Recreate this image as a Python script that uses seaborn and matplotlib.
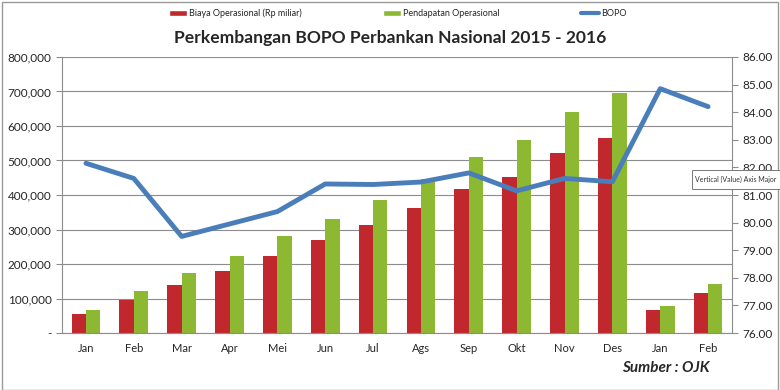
import matplotlib.pyplot as plt
import matplotlib.ticker as mticker
from matplotlib.patches import Patch, Rectangle
from matplotlib.lines import Line2D
import seaborn as sns
import pandas as pd

# Data
months = ["Jan", "Feb", "Mar", "Apr", "Mei", "Jun", "Jul", "Ags",
          "Sep", "Okt", "Nov", "Des", "Jan", "Feb"]
periods = [f"{m} {y}" for m, y in zip(months, [2015] * 12 + [2016] * 2)]
biaya = [55000, 97000, 139000, 180000, 223000, 270000, 312000, 362000,
         418000, 453000, 521000, 566000, 67000, 117000]
pendapatan = [68000, 121000, 175000, 224000, 281000, 331000, 385000, 445000,
              509000, 559000, 640000, 695000, 79000, 141000]
bopo = [82.15, 81.6, 79.5, 79.95, 80.4, 81.4, 81.38, 81.47,
        81.8, 81.15, 81.6, 81.48, 84.85, 84.2]

RED = "#C0282D"
GREEN = "#8DB832"
BLUE = "#4A7EBB"

bars = pd.DataFrame({
    "period": periods * 2,
    "value": biaya + pendapatan,
    "series": ["Biaya Operasional (Rp miliar)"] * len(periods)
    + ["Pendapatan Operasional"] * len(periods),
})
line = pd.DataFrame({"pos": range(len(periods)), "bopo": bopo})

sns.set_style("white")
plt.rcParams["font.family"] = ["Lato", "DejaVu Sans"]

fig = plt.figure(figsize=(7.8, 3.9), dpi=100)
ax = fig.add_axes([0.0795, 0.146, 0.859, 0.708])

sns.barplot(data=bars, x="period", y="value", hue="series", order=periods,
            palette=[RED, GREEN], width=0.6, gap=0, saturation=1,
            edgecolor="none", legend=False, ax=ax)

ax.set_ylim(0, 800000)
ax.set_xlim(-0.5, len(periods) - 0.5)
ax.yaxis.set_major_locator(mticker.MultipleLocator(100000))
ax.yaxis.set_major_formatter(mticker.FuncFormatter(
    lambda v, p: "-" if v == 0 else f"{v:,.0f}"))
ax.grid(axis="y", color="#8C8C8C", linewidth=0.8)
ax.set_axisbelow(True)
ax.set_xticks(range(len(periods)))
ax.set_xticklabels(months)
ax.set_xticks([i + 0.5 for i in range(-1, len(periods))], minor=True)
ax.tick_params(axis="x", which="major", length=0, pad=7, labelsize=8)
ax.tick_params(axis="x", which="minor", length=4, color="#8C8C8C")
ax.tick_params(axis="y", length=4, color="#8C8C8C", labelsize=8.5, left=True)
ax.set_xlabel("")
ax.set_ylabel("")
for s in ["left", "bottom"]:
    ax.spines[s].set_color("#8C8C8C")
for s in ["top", "right"]:
    ax.spines[s].set_visible(False)

ax2 = ax.twinx()
sns.lineplot(data=line, x="pos", y="bopo", color=BLUE, linewidth=3.5,
             ax=ax2)
ax2.set_ylim(76, 86)
ax2.yaxis.set_major_locator(mticker.MultipleLocator(1))
ax2.yaxis.set_major_formatter(mticker.FormatStrFormatter("%.2f"))
ax2.tick_params(axis="y", length=4, color="#8C8C8C", labelsize=8.5, right=True)
ax2.set_ylabel("")
ax2.spines["right"].set_color("#8C8C8C")
for s in ["top", "left", "bottom"]:
    ax2.spines[s].set_visible(False)

# Title, legend, source
fig.text(0.5, 0.902, "Perkembangan BOPO Perbankan Nasional 2015 - 2016",
         ha="center", va="center", fontsize=12.6, fontweight="bold")
handles = [Patch(facecolor=RED, label="Biaya Operasional (Rp miliar)"),
           Patch(facecolor=GREEN, label="Pendapatan Operasional"),
           Line2D([], [], color=BLUE, linewidth=3, label="BOPO")]
fig.legend(handles=handles, loc="center", bbox_to_anchor=(0.51, 0.966),
           ncol=3, frameon=False, fontsize=6.5, columnspacing=9,
           handlelength=2, handletextpad=0.2, handleheight=0.6)
fig.text(0.91, 0.057, "Sumber : OJK", ha="right", va="center",
         fontsize=11, fontweight="bold", style="italic")

# Tooltip left over from the screenshot (runs off the right edge)
fig.patches.append(Rectangle((0.887, 0.515), 0.12, 0.05, facecolor="white",
                             edgecolor="#777777", linewidth=0.7,
                             transform=fig.transFigure, figure=fig,
                             zorder=5))
fig.text(0.891, 0.54, "Vertical (Value) Axis Major", ha="left",
         va="center", fontsize=5.0, color="#333333", zorder=6)

fig.patches.append(Rectangle((0.003, 0.0), 0.994, 0.995, fill=False,
                             edgecolor="#9A9A9A", linewidth=1,
                             transform=fig.transFigure, figure=fig))

fig.savefig("out.png", dpi=100)
